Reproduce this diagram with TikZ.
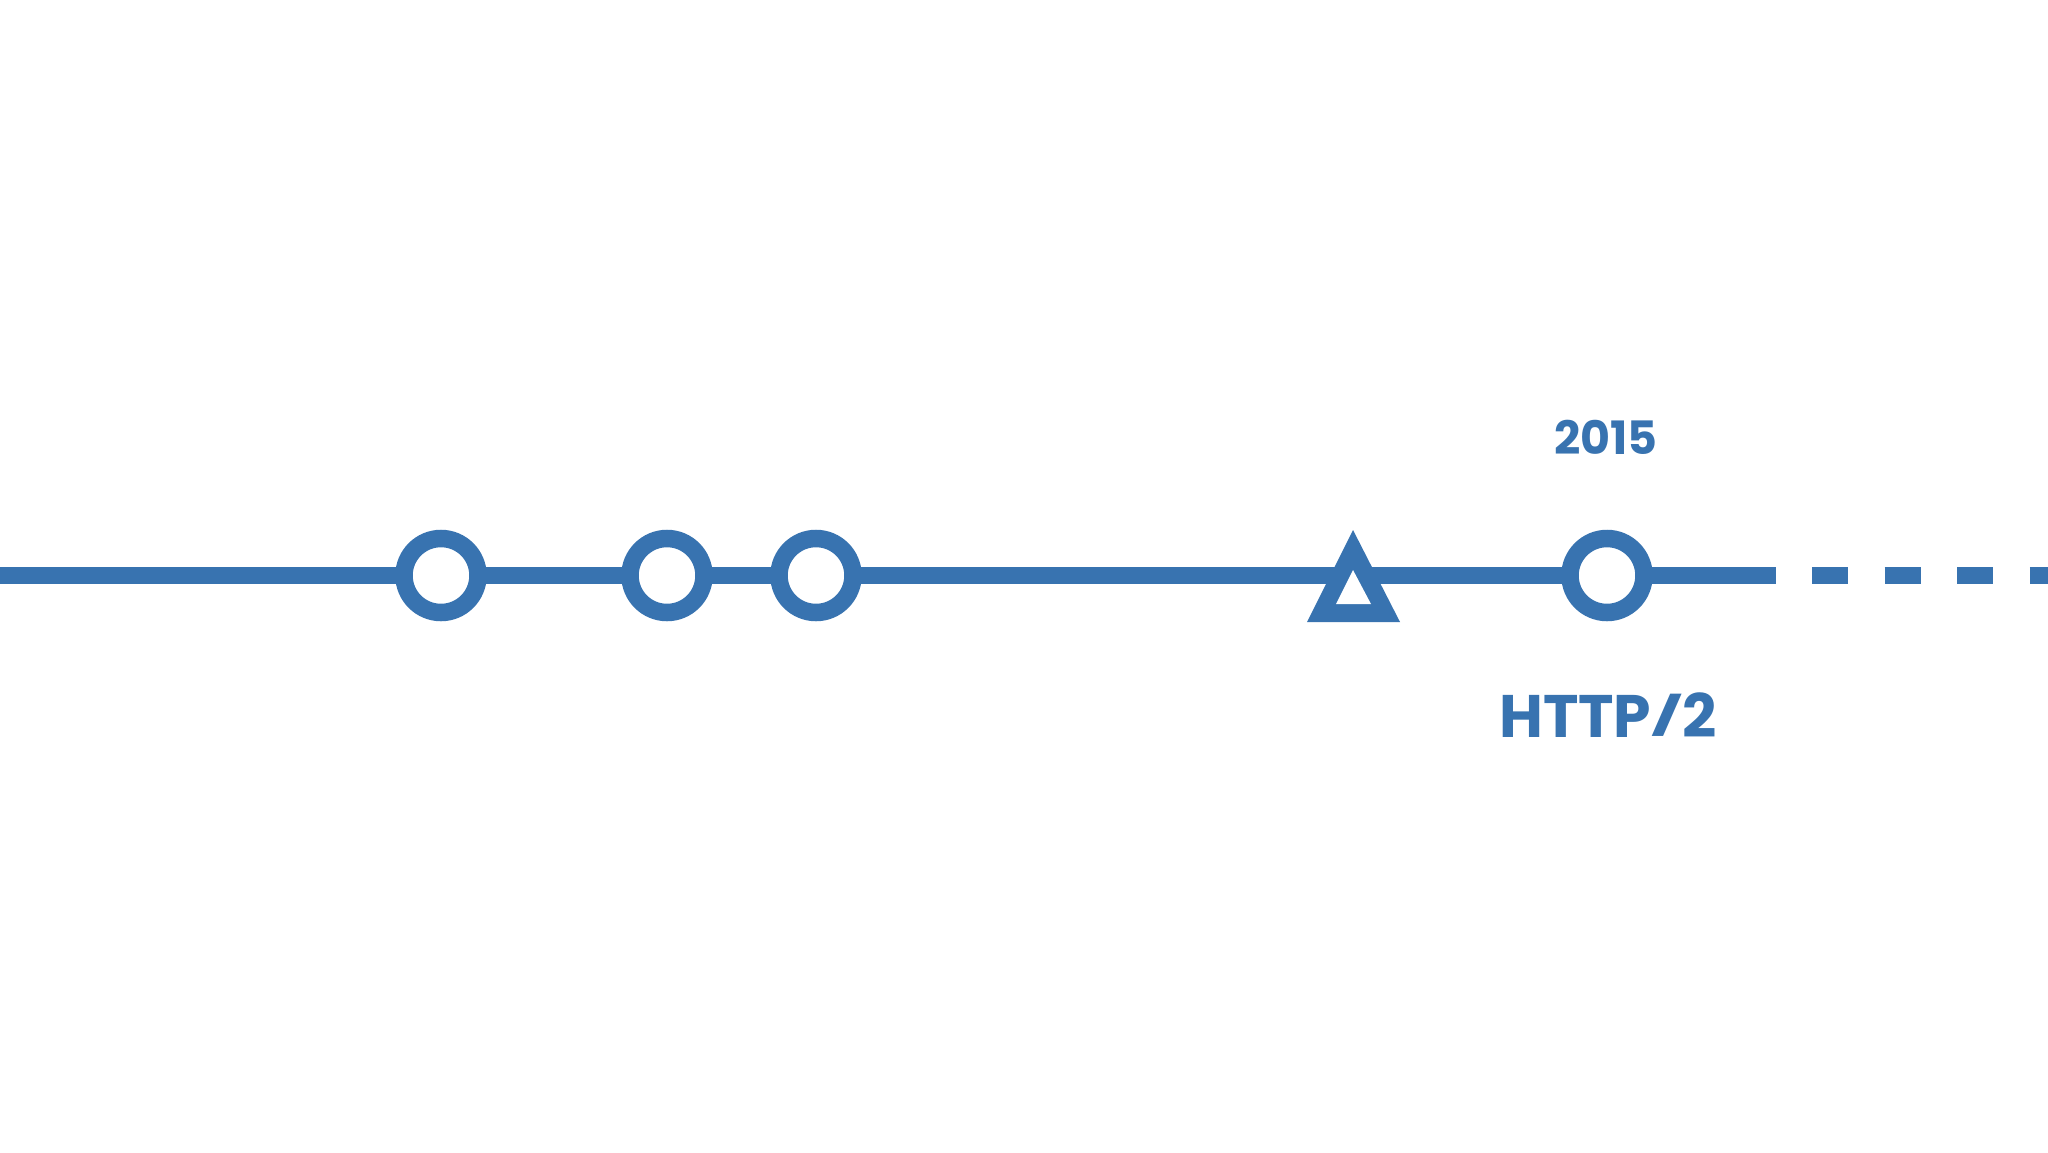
\documentclass[tikz,border=0pt]{standalone}
\usepackage{fontspec}
\setmainfont{Poppins}
\usetikzlibrary{backgrounds}
\definecolor{tlblue}{HTML}{3873B0}
\tikzset{
  milestone/.style={circle, draw=tlblue, line width=17.5pt, fill=white, inner sep=0pt, minimum size=74pt},
  tline/.style={draw=tlblue, line width=17pt},
  tdash/.style={draw=tlblue, line width=17pt, dash pattern=on 36pt off 36.6pt, dash phase=36.6pt},
  label/.style={text=tlblue, font=\bfseries, inner sep=0pt}
}
\begin{document}
\begin{tikzpicture}[x=1pt,y=-1pt]
\useasboundingbox (0,0) rectangle (2048,1152);
\coordinate (start) at (0,575.5);
\coordinate (lineend) at (1776,575.5);
\coordinate (edge) at (2048,575.5);
\node[milestone] (c1) at (441,575.5) {};
\node[milestone] (c2) at (667,575.5) {};
\node[milestone] (c3) at (816,575.5) {};
\node[milestone] (c4) at (1607,575.5) {};
\coordinate (tri) at (1353,575.5);
% triangle marker
\fill[tlblue] (1353,530) -- (1400,622) -- (1307,622) -- cycle;
\fill[white] (1353,570) -- (1371,604) -- (1336,604) -- cycle;
\begin{pgfonlayer}{background}
\fill[white] (0,0) rectangle (2048,1152);
\draw[tline] (start) -- (c1.center);
\draw[tline] (c1.center) -- (c2.center);
\draw[tline] (c2.center) -- (c3.center);
\draw[tline] (c3.center) -- (tri);
\draw[tline] (tri) -- (c4.center);
\draw[tline] (c4.center) -- (lineend);
\draw[tdash] (lineend) -- (edge);
\end{pgfonlayer}
\node[label, font=\bfseries\fontsize{46}{46}\selectfont] (year) at (1606,437) {2015};
\node[label, font=\bfseries\fontsize{60}{60}\selectfont, anchor=base] (name) at (1608,737) {HTTP\raisebox{7.2pt}{\scalebox{1.15}[0.62]{/}}2};
\end{tikzpicture}
\end{document}
